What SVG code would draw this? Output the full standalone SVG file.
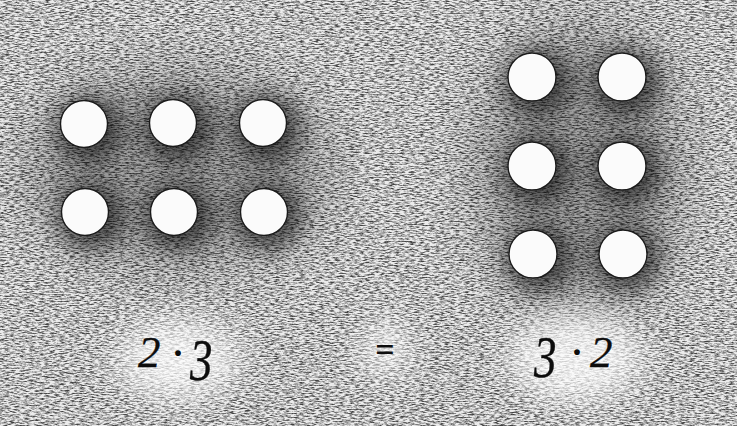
<svg xmlns="http://www.w3.org/2000/svg" width="737" height="426" viewBox="0 0 737 426">
<style>
.dot{fill:#fbfbfb;stroke:#1a1a1a;stroke-width:1.4}
.halo{fill:#000;opacity:0.55;filter:url(#blur)}
.num{font-family:"Liberation Serif","DejaVu Serif",serif;font-size:45px;font-style:italic;fill:#0d0d0d;stroke:#0d0d0d;stroke-width:0.3}
.mid{font-family:"Liberation Serif","DejaVu Serif",serif;font-size:36px;font-weight:bold;fill:#0d0d0d;text-anchor:middle}
.op{font-family:"Liberation Serif","DejaVu Serif",serif;font-size:34px;font-weight:bold;fill:#0d0d0d}
.glow{fill:#fff;filter:url(#glow);opacity:0.75}
</style>
<defs>
<filter id="blur" x="-50%" y="-50%" width="200%" height="200%"><feGaussianBlur stdDeviation="11"/></filter>
<filter id="glow" x="-50%" y="-50%" width="200%" height="200%"><feGaussianBlur stdDeviation="16"/></filter>
<filter id="bigblur" x="-50%" y="-50%" width="200%" height="200%"><feGaussianBlur stdDeviation="30"/></filter>
<filter id="noise" x="0" y="0" width="100%" height="100%">
<feTurbulence type="fractalNoise" baseFrequency="0.2 0.75" numOctaves="3" seed="7"/>
<feColorMatrix type="matrix" values="0 0 0 0 0  0 0 0 0 0  0 0 0 0 0  -2.6 0 0 0 1.6"/>
</filter>
</defs>
<rect width="737" height="426" fill="#ececec"/>
<g id="shading">
<ellipse cx="178" cy="170" rx="150" ry="95" fill="#000" opacity="0.3" filter="url(#bigblur)"/>
<ellipse cx="580" cy="168" rx="100" ry="140" fill="#000" opacity="0.3" filter="url(#bigblur)"/>
<circle class="halo" cx="89" cy="129" r="33"/>
<circle class="halo" cx="178" cy="128" r="33"/>
<circle class="halo" cx="268" cy="128" r="33"/>
<circle class="halo" cx="90" cy="217" r="33"/>
<circle class="halo" cx="179" cy="217" r="33"/>
<circle class="halo" cx="269" cy="217" r="33"/>
<circle class="halo" cx="537" cy="82" r="33"/>
<circle class="halo" cx="627" cy="82" r="33"/>
<circle class="halo" cx="537" cy="171" r="33"/>
<circle class="halo" cx="627" cy="171" r="33"/>
<circle class="halo" cx="538" cy="259" r="33"/>
<circle class="halo" cx="628" cy="259" r="33"/>
</g>
<rect width="737" height="426" filter="url(#noise)" opacity="0.72"/>
<g id="text-glows">
<ellipse class="glow" cx="178" cy="360" rx="62" ry="40"/>
<ellipse class="glow" cx="385" cy="350" rx="24" ry="28"/>
<ellipse class="glow" cx="576" cy="358" rx="66" ry="44"/>
</g>
<g id="left-grid">
<circle id="a1" class="dot" cx="84" cy="124" r="23.5"/>
<circle id="a2" class="dot" cx="173" cy="123" r="23.5"/>
<circle id="a3" class="dot" cx="263" cy="123" r="23.5"/>
<circle id="a4" class="dot" cx="85" cy="212" r="23.5"/>
<circle id="a5" class="dot" cx="174" cy="212" r="23.5"/>
<circle id="a6" class="dot" cx="264" cy="212" r="23.5"/>
</g>
<g id="right-grid">
<circle id="b1" class="dot" cx="532" cy="77" r="24"/>
<circle id="b2" class="dot" cx="622" cy="77" r="24"/>
<circle id="b3" class="dot" cx="532" cy="166" r="24"/>
<circle id="b4" class="dot" cx="622" cy="166" r="24"/>
<circle id="b5" class="dot" cx="533" cy="254" r="24"/>
<circle id="b6" class="dot" cx="623" cy="254" r="24"/>
</g>
<g id="labels">
<text class="num" x="138" y="367">2</text>
<text class="mid" x="178" y="365">·</text>
<text class="num" transform="translate(190,380) scale(1,1.3)">3</text>
<text class="op" x="385" y="361" text-anchor="middle">=</text>
<text class="num" transform="translate(534,377) scale(1,1.3)">3</text>
<text class="mid" x="577" y="364">·</text>
<text class="num" x="590" y="367">2</text>
</g>
</svg>
